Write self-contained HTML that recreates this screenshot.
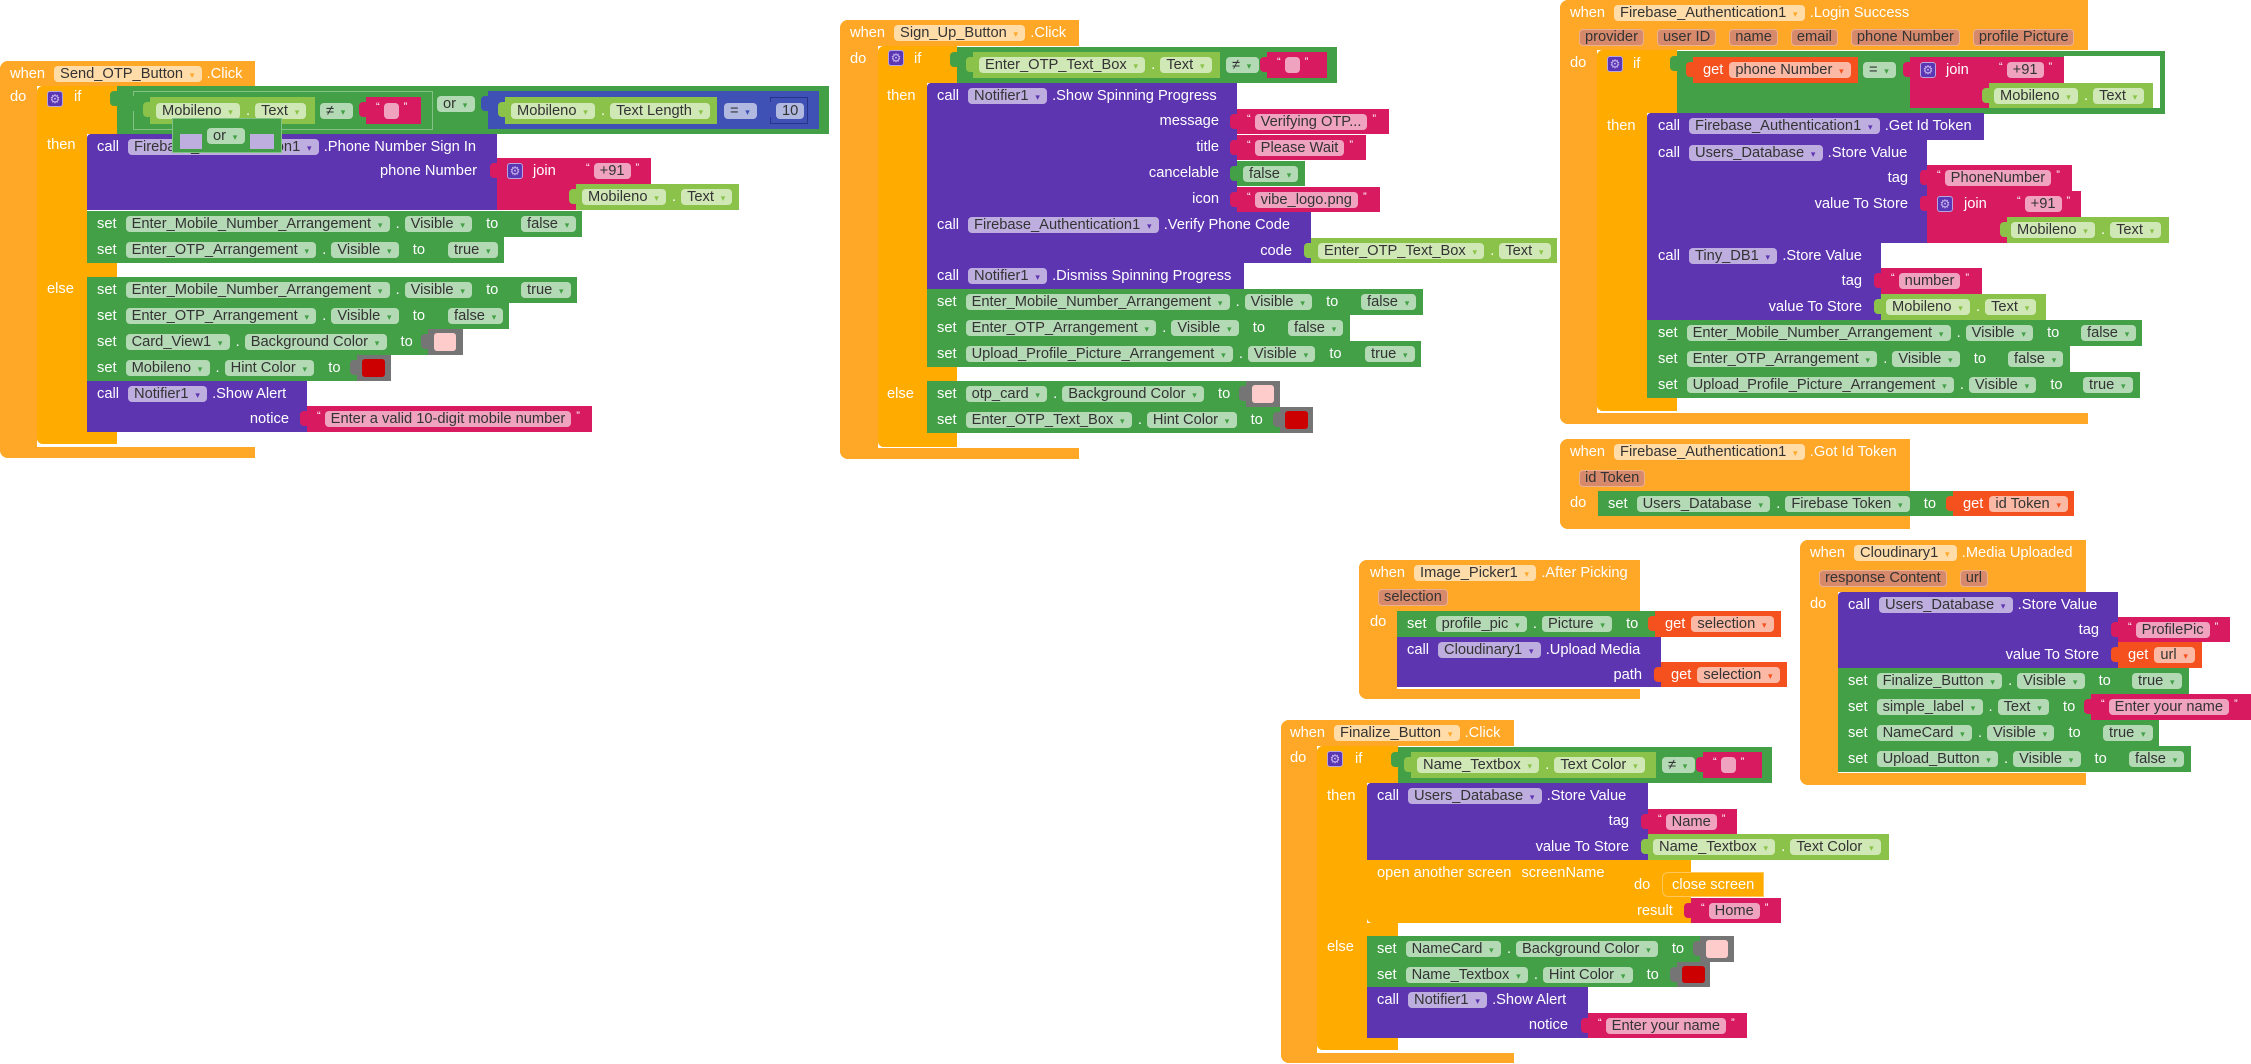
<!DOCTYPE html>
<html><head><meta charset="utf-8">
<style>
*{margin:0;padding:0;box-sizing:border-box}
body{width:2251px;height:1064px;background:#fff;position:relative;overflow:hidden;font-family:"Liberation Sans",Arial,sans-serif;font-size:14.67px}
.k{position:absolute}
.E{background:#FFA726}.C{background:#FFAB00}.S{background:#43A047}.G{background:#8BC34A}
.P{background:#5E35B1}.K{background:#D81B60}.B{background:#3F51B5}.V{background:#F4511E}.Y{background:#757575}
.o{box-shadow:inset 0 0 0 1px rgba(255,255,255,.35)}
.o2{box-shadow:inset 0 0 0 1px #25348a}
.t::before{content:"";position:absolute;left:-7px;top:5px;width:8px;height:15px;background:inherit;border-radius:4px 0 0 4px}
.r{position:absolute;display:flex;align-items:center;white-space:nowrap;color:#fff;height:26px}
.rr{justify-content:flex-end}
.p{display:inline-block;font-style:normal;height:16px;line-height:16px;padding:0 6px;border-radius:4px;background:rgba(255,255,255,.6);color:#333;margin-left:0}
.r span + .p{margin-left:9px}
.rg span + .p{margin-left:6px}
.p0{width:15px;padding:0}
.d::after{content:"▾";display:inline-block;width:7px;margin-left:5.5px;font-size:9px;text-align:center;color:var(--c);font-family:"DejaVu Sans",sans-serif}
.r b{font-weight:normal;margin-left:6px}
.r b + .p{margin-left:5px}
.r em{font-style:normal;margin-left:5px}
.r u{text-decoration:none;margin-left:14px}
.r s{text-decoration:none;font-size:11px;align-self:flex-start;margin-top:4px}
.r s + .p{margin-left:4px}
.r .p + s{margin-left:5px}
.q{display:inline-block;font-style:normal;height:17px;line-height:15px;padding:0 5px;border-radius:4px;background:#D68A6B;border:1px solid #EDB08F;color:#333;margin-right:13px}
.gear{position:absolute;width:16px;height:16px;background:#5b37b3;border:1px solid #b7a5e0;border-radius:3px;color:#c9b8f0;font-size:12px;line-height:14px;text-align:center;font-family:"DejaVu Sans",sans-serif}
.ce{--c:#FFA726}.cc{--c:#FFAB00}.cs{--c:#43A047}.cg{--c:#8BC34A}.cp{--c:#5E35B1}.ck{--c:#D81B60}.cv{--c:#F4511E}.cb{--c:#3F51B5}
</style></head><body>

<!-- ===== Block 1: Send_OTP_Button.Click ===== -->
<div class="k E" style="left:0;top:61px;width:255px;height:25px;border-radius:8px 0 0 0"></div>
<div class="k E" style="left:0;top:61px;width:37px;height:397px;border-radius:8px 0 0 8px"></div>
<div class="k E" style="left:0;top:447px;width:255px;height:11px;border-radius:0 0 0 8px"></div>
<div class="r ce" style="left:10px;top:61px;height:25px"><span>when</span><i class="p d">Send_OTP_Button</i><em>.Click</em></div>
<div class="r" style="left:10px;top:84px">do</div>
<div class="k C" style="left:37px;top:86px;width:80px;height:48px;border-radius:6px 0 0 0"></div>
<div class="k C" style="left:37px;top:86px;width:50px;height:358px;border-radius:6px 0 0 6px"></div>
<div class="k C" style="left:37px;top:263px;width:80px;height:14px"></div>
<div class="k C" style="left:37px;top:431px;width:80px;height:13px;border-radius:0 0 0 6px"></div>
<div class="gear" style="left:47px;top:91px">⚙</div>
<div class="r" style="left:74px;top:84px">if</div>
<div class="r" style="left:47px;top:132px">then</div>
<div class="r" style="left:47px;top:276px">else</div>

<div class="k S t" style="left:117px;top:86px;width:712px;height:48px"></div>
<div class="k S t o" style="left:133px;top:91px;width:300px;height:39px"></div>
<div class="k G t" style="left:150px;top:97px;width:165px;height:27px"></div>
<div class="r cg" style="left:156px;top:97px;height:27px"><i class="p d">Mobileno</i><b>.</b><i class="p d">Text</i></div>
<div class="r cs" style="left:320px;top:97px;height:27px"><i class="p d">≠</i></div>
<div class="k K t" style="left:366px;top:97px;width:55px;height:27px"></div>
<div class="r ck" style="left:376px;top:97px;height:27px"><s>“</s><i class="p p0"></i><s>”</s></div>
<div class="r cs" style="left:437px;top:96px;height:16px"><i class="p d">or</i></div>
<div class="k B t" style="left:488px;top:91px;width:331px;height:38px"></div>
<div class="k G t" style="left:505px;top:97px;width:212px;height:27px"></div>
<div class="r cg" style="left:511px;top:97px;height:27px"><i class="p d">Mobileno</i><b>.</b><i class="p d">Text Length</i></div>
<div class="r cb" style="left:724px;top:97px;height:27px"><i class="p d">=</i></div>
<div class="k B t o2" style="left:770px;top:97px;width:38px;height:27px"></div>
<div class="r" style="left:776px;top:97px;height:27px"><i class="p">10</i></div>

<div class="k P" style="left:87px;top:134px;width:410px;height:76px;border-radius:4px 0 0 0"></div>
<div class="r cp" style="left:97px;top:134px;height:25px"><span>call</span><i class="p d">Firebase_Authentication1</i><em>.Phone Number Sign In</em></div>
<div class="r rr" style="left:87px;width:390px;top:158px">phone Number</div>
<div class="k K t" style="left:497px;top:158px;width:79px;height:52px"></div>
<div class="gear" style="left:507px;top:163px">⚙</div>
<div class="r" style="left:533px;top:158px">join</div>
<div class="k K t" style="left:576px;top:158px;width:75px;height:26px"></div>
<div class="r ck" style="left:586px;top:158px"><s>“</s><i class="p">+91</i><s>”</s></div>
<div class="k G t" style="left:576px;top:184px;width:163px;height:26px"></div>
<div class="r cg" style="left:582px;top:184px"><i class="p d">Mobileno</i><b>.</b><i class="p d">Text</i></div>

<div class="k S o" style="left:172px;top:118px;width:110px;height:35px"></div>
<div class="k" style="left:180px;top:134px;width:22px;height:15px;background:#BEAEE0"></div>
<div class="k" style="left:250px;top:134px;width:24px;height:15px;background:#BEAEE0"></div>
<div class="r cs" style="left:207px;top:128px;height:16px"><i class="p d">or</i></div>

<div class="k S" style="left:87px;top:211px;width:428px;height:26px"></div>
<div class="r cs" style="left:97px;top:211px"><span>set</span><i class="p d">Enter_Mobile_Number_Arrangement</i><b>.</b><i class="p d">Visible</i><u>to</u></div>
<div class="k S t" style="left:515px;top:211px;width:67px;height:26px"></div>
<div class="r cs" style="left:521px;top:211px"><i class="p d">false</i></div>
<div class="k S" style="left:87px;top:237px;width:355px;height:26px"></div>
<div class="r cs" style="left:97px;top:237px"><span>set</span><i class="p d">Enter_OTP_Arrangement</i><b>.</b><i class="p d">Visible</i><u>to</u></div>
<div class="k S t" style="left:442px;top:237px;width:62px;height:26px"></div>
<div class="r cs" style="left:448px;top:237px"><i class="p d">true</i></div>

<div class="k S" style="left:87px;top:277px;width:428px;height:26px"></div>
<div class="r cs" style="left:97px;top:277px"><span>set</span><i class="p d">Enter_Mobile_Number_Arrangement</i><b>.</b><i class="p d">Visible</i><u>to</u></div>
<div class="k S t" style="left:515px;top:277px;width:62px;height:26px"></div>
<div class="r cs" style="left:521px;top:277px"><i class="p d">true</i></div>
<div class="k S" style="left:87px;top:303px;width:355px;height:26px"></div>
<div class="r cs" style="left:97px;top:303px"><span>set</span><i class="p d">Enter_OTP_Arrangement</i><b>.</b><i class="p d">Visible</i><u>to</u></div>
<div class="k S t" style="left:442px;top:303px;width:67px;height:26px"></div>
<div class="r cs" style="left:448px;top:303px"><i class="p d">false</i></div>
<div class="k S" style="left:87px;top:329px;width:341px;height:26px"></div>
<div class="r cs" style="left:97px;top:329px"><span>set</span><i class="p d">Card_View1</i><b>.</b><i class="p d">Background Color</i><u>to</u></div>
<div class="k Y t" style="left:428px;top:329px;width:35px;height:26px"></div>
<div class="k" style="left:434px;top:333px;width:22px;height:18px;background:#FFCCCC;border-radius:3px"></div>
<div class="k S" style="left:87px;top:355px;width:270px;height:26px"></div>
<div class="r cs" style="left:97px;top:355px"><span>set</span><i class="p d">Mobileno</i><b>.</b><i class="p d">Hint Color</i><u>to</u></div>
<div class="k Y t" style="left:357px;top:355px;width:34px;height:26px"></div>
<div class="k" style="left:362px;top:359px;width:23px;height:18px;background:#CC0000;border-radius:3px"></div>
<div class="k P" style="left:87px;top:381px;width:220px;height:51px"></div>
<div class="r cp" style="left:97px;top:381px;height:25px"><span>call</span><i class="p d">Notifier1</i><em>.Show Alert</em></div>
<div class="r rr" style="left:87px;width:202px;top:406px">notice</div>
<div class="k K t" style="left:307px;top:406px;width:285px;height:26px"></div>
<div class="r ck" style="left:317px;top:406px"><s>“</s><i class="p">Enter a valid 10-digit mobile number</i><s>”</s></div>

<!-- ===== Block 2: Sign_Up_Button.Click ===== -->
<div class="k E" style="left:840px;top:20px;width:239px;height:26px;border-radius:8px 0 0 0"></div>
<div class="k E" style="left:840px;top:20px;width:38px;height:439px;border-radius:8px 0 0 8px"></div>
<div class="k E" style="left:840px;top:448px;width:239px;height:11px;border-radius:0 0 0 8px"></div>
<div class="r ce" style="left:850px;top:20px"><span>when</span><i class="p d">Sign_Up_Button</i><em>.Click</em></div>
<div class="r" style="left:850px;top:46px">do</div>
<div class="k C" style="left:878px;top:46px;width:79px;height:37px;border-radius:6px 0 0 0"></div>
<div class="k C" style="left:878px;top:46px;width:49px;height:401px;border-radius:6px 0 0 6px"></div>
<div class="k C" style="left:878px;top:367px;width:79px;height:14px"></div>
<div class="k C" style="left:878px;top:433px;width:79px;height:14px;border-radius:0 0 0 6px"></div>
<div class="gear" style="left:888px;top:50px">⚙</div>
<div class="r" style="left:914px;top:46px">if</div>
<div class="r" style="left:887px;top:83px;height:25px">then</div>
<div class="r" style="left:887px;top:381px">else</div>
<div class="k S t" style="left:957px;top:47px;width:380px;height:36px"></div>
<div class="k G t" style="left:973px;top:52px;width:247px;height:26px"></div>
<div class="r cg" style="left:979px;top:52px"><i class="p d">Enter_OTP_Text_Box</i><b>.</b><i class="p d">Text</i></div>
<div class="r cs" style="left:1226px;top:52px"><i class="p d">≠</i></div>
<div class="k K t" style="left:1267px;top:52px;width:60px;height:26px"></div>
<div class="r ck" style="left:1277px;top:52px"><s>“</s><i class="p p0"></i><s>”</s></div>

<div class="k P" style="left:927px;top:83px;width:310px;height:129px;border-radius:4px 0 0 0"></div>
<div class="r cp" style="left:937px;top:83px;height:25px"><span>call</span><i class="p d">Notifier1</i><em>.Show Spinning Progress</em></div>
<div class="r rr" style="left:927px;width:292px;top:108px">message</div>
<div class="r rr" style="left:927px;width:292px;top:134px">title</div>
<div class="r rr" style="left:927px;width:292px;top:160px">cancelable</div>
<div class="r rr" style="left:927px;width:292px;top:186px">icon</div>
<div class="k K t" style="left:1237px;top:109px;width:152px;height:25px"></div>
<div class="r ck" style="left:1247px;top:109px;height:25px"><s>“</s><i class="p">Verifying OTP...</i><s>”</s></div>
<div class="k K t" style="left:1237px;top:135px;width:129px;height:25px"></div>
<div class="r ck" style="left:1247px;top:135px;height:25px"><s>“</s><i class="p">Please Wait</i><s>”</s></div>
<div class="k S t" style="left:1237px;top:161px;width:68px;height:25px"></div>
<div class="r cs" style="left:1243px;top:161px;height:25px"><i class="p d">false</i></div>
<div class="k K t" style="left:1237px;top:187px;width:143px;height:25px"></div>
<div class="r ck" style="left:1247px;top:187px;height:25px"><s>“</s><i class="p">vibe_logo.png</i><s>”</s></div>
<div class="k P" style="left:927px;top:212px;width:384px;height:51px"></div>
<div class="r cp" style="left:937px;top:212px;height:25px"><span>call</span><i class="p d">Firebase_Authentication1</i><em>.Verify Phone Code</em></div>
<div class="r rr" style="left:927px;width:365px;top:238px;height:25px">code</div>
<div class="k G t" style="left:1311px;top:238px;width:246px;height:25px"></div>
<div class="r cg" style="left:1318px;top:238px;height:25px"><i class="p d">Enter_OTP_Text_Box</i><b>.</b><i class="p d">Text</i></div>
<div class="k P" style="left:927px;top:263px;width:317px;height:26px"></div>
<div class="r cp" style="left:937px;top:263px"><span>call</span><i class="p d">Notifier1</i><em>.Dismiss Spinning Progress</em></div>
<div class="k S" style="left:927px;top:289px;width:428px;height:26px"></div>
<div class="r cs" style="left:937px;top:289px"><span>set</span><i class="p d">Enter_Mobile_Number_Arrangement</i><b>.</b><i class="p d">Visible</i><u>to</u></div>
<div class="k S t" style="left:1355px;top:289px;width:68px;height:26px"></div>
<div class="r cs" style="left:1361px;top:289px"><i class="p d">false</i></div>
<div class="k S" style="left:927px;top:315px;width:355px;height:26px"></div>
<div class="r cs" style="left:937px;top:315px"><span>set</span><i class="p d">Enter_OTP_Arrangement</i><b>.</b><i class="p d">Visible</i><u>to</u></div>
<div class="k S t" style="left:1282px;top:315px;width:68px;height:26px"></div>
<div class="r cs" style="left:1288px;top:315px"><i class="p d">false</i></div>
<div class="k S" style="left:927px;top:341px;width:432px;height:26px"></div>
<div class="r cs" style="left:937px;top:341px"><span>set</span><i class="p d">Upload_Profile_Picture_Arrangement</i><b>.</b><i class="p d">Visible</i><u>to</u></div>
<div class="k S t" style="left:1359px;top:341px;width:62px;height:26px"></div>
<div class="r cs" style="left:1365px;top:341px"><i class="p d">true</i></div>
<div class="k S" style="left:927px;top:381px;width:319px;height:26px"></div>
<div class="r cs" style="left:937px;top:381px"><span>set</span><i class="p d">otp_card</i><b>.</b><i class="p d">Background Color</i><u>to</u></div>
<div class="k Y t" style="left:1246px;top:381px;width:34px;height:26px"></div>
<div class="k" style="left:1252px;top:385px;width:22px;height:18px;background:#FFCCCC;border-radius:3px"></div>
<div class="k S" style="left:927px;top:407px;width:353px;height:26px"></div>
<div class="r cs" style="left:937px;top:407px"><span>set</span><i class="p d">Enter_OTP_Text_Box</i><b>.</b><i class="p d">Hint Color</i><u>to</u></div>
<div class="k Y t" style="left:1280px;top:407px;width:33px;height:26px"></div>
<div class="k" style="left:1285px;top:411px;width:23px;height:18px;background:#CC0000;border-radius:3px"></div>

<!-- ===== Block 3: Login Success ===== -->
<div class="k E" style="left:1560px;top:0;width:528px;height:50px;border-radius:8px 0 0 0"></div>
<div class="k E" style="left:1560px;top:0;width:37px;height:424px;border-radius:8px 0 0 8px"></div>
<div class="k E" style="left:1560px;top:413px;width:528px;height:11px;border-radius:0 0 0 8px"></div>
<div class="r ce" style="left:1570px;top:0;height:25px"><span>when</span><i class="p d">Firebase_Authentication1</i><em>.Login Success</em></div>
<div class="r" style="left:1579px;top:29px;height:17px"><i class="q">provider</i><i class="q">user ID</i><i class="q">name</i><i class="q">email</i><i class="q">phone Number</i><i class="q">profile Picture</i></div>
<div class="r" style="left:1570px;top:50px;height:25px">do</div>
<div class="k C" style="left:1597px;top:50px;width:80px;height:63px;border-radius:6px 0 0 0"></div>
<div class="k C" style="left:1597px;top:50px;width:50px;height:361px;border-radius:6px 0 0 6px"></div>
<div class="k C" style="left:1597px;top:398px;width:80px;height:13px;border-radius:0 0 0 6px"></div>
<div class="gear" style="left:1607px;top:56px">⚙</div>
<div class="r" style="left:1633px;top:51px;height:25px">if</div>
<div class="r" style="left:1607px;top:113px;height:25px">then</div>
<div class="k S t" style="left:1677px;top:51px;width:488px;height:63px"></div>
<div class="k" style="left:2064px;top:56px;width:96px;height:52px;background:#fff"></div>
<div class="k V t" style="left:1693px;top:57px;width:165px;height:26px"></div>
<div class="r cv rg" style="left:1703px;top:57px"><span>get</span><i class="p d">phone Number</i></div>
<div class="r cs" style="left:1863px;top:57px"><i class="p d">=</i></div>
<div class="k K t" style="left:1910px;top:57px;width:79px;height:51px"></div>
<div class="gear" style="left:1920px;top:62px">⚙</div>
<div class="r" style="left:1946px;top:57px">join</div>
<div class="k K t" style="left:1989px;top:57px;width:75px;height:26px"></div>
<div class="r ck" style="left:1999px;top:57px"><s>“</s><i class="p">+91</i><s>”</s></div>
<div class="k G t" style="left:1989px;top:83px;width:164px;height:25px"></div>
<div class="r cg" style="left:1994px;top:83px;height:25px"><i class="p d">Mobileno</i><b>.</b><i class="p d">Text</i></div>

<div class="k P" style="left:1647px;top:113px;width:337px;height:27px;border-radius:4px 0 0 0"></div>
<div class="r cp" style="left:1658px;top:113px"><span>call</span><i class="p d">Firebase_Authentication1</i><em>.Get Id Token</em></div>
<div class="k P" style="left:1647px;top:140px;width:280px;height:103px"></div>
<div class="r cp" style="left:1658px;top:140px;height:25px"><span>call</span><i class="p d">Users_Database</i><em>.Store Value</em></div>
<div class="r rr" style="left:1647px;width:261px;top:165px">tag</div>
<div class="r rr" style="left:1647px;width:261px;top:191px">value To Store</div>
<div class="k K t" style="left:1927px;top:165px;width:145px;height:26px"></div>
<div class="r ck" style="left:1937px;top:165px"><s>“</s><i class="p">PhoneNumber</i><s>”</s></div>
<div class="k K t" style="left:1927px;top:191px;width:80px;height:52px"></div>
<div class="gear" style="left:1937px;top:196px">⚙</div>
<div class="r" style="left:1964px;top:191px">join</div>
<div class="k K t" style="left:2007px;top:191px;width:74px;height:26px"></div>
<div class="r ck" style="left:2017px;top:191px"><s>“</s><i class="p">+91</i><s>”</s></div>
<div class="k G t" style="left:2007px;top:217px;width:162px;height:26px"></div>
<div class="r cg" style="left:2011px;top:217px"><i class="p d">Mobileno</i><b>.</b><i class="p d">Text</i></div>
<div class="k P" style="left:1647px;top:243px;width:234px;height:77px"></div>
<div class="r cp" style="left:1658px;top:243px;height:25px"><span>call</span><i class="p d">Tiny_DB1</i><em>.Store Value</em></div>
<div class="r rr" style="left:1647px;width:215px;top:268px">tag</div>
<div class="r rr" style="left:1647px;width:215px;top:294px">value To Store</div>
<div class="k K t" style="left:1881px;top:268px;width:101px;height:26px"></div>
<div class="r ck" style="left:1891px;top:268px"><s>“</s><i class="p">number</i><s>”</s></div>
<div class="k G t" style="left:1881px;top:294px;width:165px;height:26px"></div>
<div class="r cg" style="left:1886px;top:294px"><i class="p d">Mobileno</i><b>.</b><i class="p d">Text</i></div>
<div class="k S" style="left:1647px;top:320px;width:428px;height:26px"></div>
<div class="r cs" style="left:1658px;top:320px"><span>set</span><i class="p d">Enter_Mobile_Number_Arrangement</i><b>.</b><i class="p d">Visible</i><u>to</u></div>
<div class="k S t" style="left:2075px;top:320px;width:67px;height:26px"></div>
<div class="r cs" style="left:2081px;top:320px"><i class="p d">false</i></div>
<div class="k S" style="left:1647px;top:346px;width:355px;height:26px"></div>
<div class="r cs" style="left:1658px;top:346px"><span>set</span><i class="p d">Enter_OTP_Arrangement</i><b>.</b><i class="p d">Visible</i><u>to</u></div>
<div class="k S t" style="left:2002px;top:346px;width:68px;height:26px"></div>
<div class="r cs" style="left:2008px;top:346px"><i class="p d">false</i></div>
<div class="k S" style="left:1647px;top:372px;width:430px;height:26px"></div>
<div class="r cs" style="left:1658px;top:372px"><span>set</span><i class="p d">Upload_Profile_Picture_Arrangement</i><b>.</b><i class="p d">Visible</i><u>to</u></div>
<div class="k S t" style="left:2077px;top:372px;width:63px;height:26px"></div>
<div class="r cs" style="left:2083px;top:372px"><i class="p d">true</i></div>

<!-- ===== Block 4: Got Id Token ===== -->
<div class="k E" style="left:1560px;top:439px;width:350px;height:52px;border-radius:8px 0 0 0"></div>
<div class="k E" style="left:1560px;top:439px;width:38px;height:90px;border-radius:8px 0 0 8px"></div>
<div class="k E" style="left:1560px;top:516px;width:350px;height:13px;border-radius:0 0 0 8px"></div>
<div class="r ce" style="left:1570px;top:439px"><span>when</span><i class="p d">Firebase_Authentication1</i><em>.Got Id Token</em></div>
<div class="r" style="left:1579px;top:470px;height:17px"><i class="q">id Token</i></div>
<div class="r" style="left:1570px;top:490px">do</div>
<div class="k S" style="left:1598px;top:491px;width:355px;height:25px"></div>
<div class="r cs" style="left:1608px;top:491px;height:25px"><span>set</span><i class="p d">Users_Database</i><b>.</b><i class="p d">Firebase Token</i><u>to</u></div>
<div class="k V t" style="left:1953px;top:491px;width:121px;height:25px"></div>
<div class="r cv rg" style="left:1963px;top:491px;height:25px"><span>get</span><i class="p d">id Token</i></div>

<!-- ===== Block 5: Image_Picker1.After Picking ===== -->
<div class="k E" style="left:1359px;top:560px;width:281px;height:51px;border-radius:8px 0 0 0"></div>
<div class="k E" style="left:1359px;top:560px;width:38px;height:139px;border-radius:8px 0 0 8px"></div>
<div class="k E" style="left:1359px;top:689px;width:281px;height:10px;border-radius:0 0 0 8px"></div>
<div class="r ce" style="left:1370px;top:560px"><span>when</span><i class="p d">Image_Picker1</i><em>.After Picking</em></div>
<div class="r" style="left:1378px;top:589px;height:17px"><i class="q">selection</i></div>
<div class="r" style="left:1370px;top:609px">do</div>
<div class="k S" style="left:1397px;top:611px;width:258px;height:26px"></div>
<div class="r cs" style="left:1407px;top:611px"><span>set</span><i class="p d">profile_pic</i><b>.</b><i class="p d">Picture</i><u>to</u></div>
<div class="k V t" style="left:1655px;top:611px;width:126px;height:26px"></div>
<div class="r cv rg" style="left:1665px;top:611px"><span>get</span><i class="p d">selection</i></div>
<div class="k P" style="left:1397px;top:637px;width:264px;height:50px"></div>
<div class="r cp" style="left:1407px;top:637px;height:25px"><span>call</span><i class="p d">Cloudinary1</i><em>.Upload Media</em></div>
<div class="r rr" style="left:1397px;width:245px;top:662px;height:25px">path</div>
<div class="k V t" style="left:1661px;top:662px;width:126px;height:25px"></div>
<div class="r cv rg" style="left:1671px;top:662px;height:25px"><span>get</span><i class="p d">selection</i></div>

<!-- ===== Block 6: Cloudinary1.Media Uploaded ===== -->
<div class="k E" style="left:1800px;top:540px;width:286px;height:52px;border-radius:8px 0 0 0"></div>
<div class="k E" style="left:1800px;top:540px;width:38px;height:245px;border-radius:8px 0 0 8px"></div>
<div class="k E" style="left:1800px;top:773px;width:286px;height:12px;border-radius:0 0 0 8px"></div>
<div class="r ce" style="left:1810px;top:540px;height:25px"><span>when</span><i class="p d">Cloudinary1</i><em>.Media Uploaded</em></div>
<div class="r" style="left:1819px;top:570px;height:17px"><i class="q">response Content</i><i class="q">url</i></div>
<div class="r" style="left:1810px;top:591px;height:25px">do</div>
<div class="k P" style="left:1838px;top:592px;width:280px;height:76px;border-radius:4px 0 0 0"></div>
<div class="r cp" style="left:1848px;top:592px;height:25px"><span>call</span><i class="p d">Users_Database</i><em>.Store Value</em></div>
<div class="r rr" style="left:1838px;width:261px;top:617px;height:25px">tag</div>
<div class="r rr" style="left:1838px;width:261px;top:642px">value To Store</div>
<div class="k K t" style="left:2118px;top:617px;width:112px;height:25px"></div>
<div class="r ck" style="left:2128px;top:617px;height:25px"><s>“</s><i class="p">ProfilePic</i><s>”</s></div>
<div class="k V t" style="left:2118px;top:642px;width:84px;height:26px"></div>
<div class="r cv rg" style="left:2128px;top:642px"><span>get</span><i class="p d">url</i></div>
<div class="k S" style="left:1838px;top:668px;width:288px;height:26px"></div>
<div class="r cs" style="left:1848px;top:668px"><span>set</span><i class="p d">Finalize_Button</i><b>.</b><i class="p d">Visible</i><u>to</u></div>
<div class="k S t" style="left:2126px;top:668px;width:63px;height:26px"></div>
<div class="r cs" style="left:2132px;top:668px"><i class="p d">true</i></div>
<div class="k S" style="left:1838px;top:694px;width:253px;height:26px"></div>
<div class="r cs" style="left:1848px;top:694px"><span>set</span><i class="p d">simple_label</i><b>.</b><i class="p d">Text</i><u>to</u></div>
<div class="k K t" style="left:2091px;top:694px;width:160px;height:26px"></div>
<div class="r ck" style="left:2101px;top:694px"><s>“</s><i class="p">Enter your name</i><s>”</s></div>
<div class="k S" style="left:1838px;top:720px;width:259px;height:26px"></div>
<div class="r cs" style="left:1848px;top:720px"><span>set</span><i class="p d">NameCard</i><b>.</b><i class="p d">Visible</i><u>to</u></div>
<div class="k S t" style="left:2097px;top:720px;width:62px;height:26px"></div>
<div class="r cs" style="left:2103px;top:720px"><i class="p d">true</i></div>
<div class="k S" style="left:1838px;top:746px;width:285px;height:26px"></div>
<div class="r cs" style="left:1848px;top:746px"><span>set</span><i class="p d">Upload_Button</i><b>.</b><i class="p d">Visible</i><u>to</u></div>
<div class="k S t" style="left:2123px;top:746px;width:68px;height:26px"></div>
<div class="r cs" style="left:2129px;top:746px"><i class="p d">false</i></div>

<!-- ===== Block 7: Finalize_Button.Click ===== -->
<div class="k E" style="left:1281px;top:720px;width:233px;height:26px;border-radius:8px 0 0 0"></div>
<div class="k E" style="left:1281px;top:720px;width:36px;height:343px;border-radius:8px 0 0 8px"></div>
<div class="k E" style="left:1281px;top:1053px;width:233px;height:10px;border-radius:0 0 0 8px"></div>
<div class="r ce" style="left:1290px;top:720px"><span>when</span><i class="p d">Finalize_Button</i><em>.Click</em></div>
<div class="r" style="left:1290px;top:745px">do</div>
<div class="k C" style="left:1317px;top:746px;width:81px;height:37px;border-radius:6px 0 0 0"></div>
<div class="k C" style="left:1317px;top:746px;width:50px;height:304px;border-radius:6px 0 0 6px"></div>
<div class="k C" style="left:1317px;top:923px;width:81px;height:13px"></div>
<div class="k C" style="left:1317px;top:1038px;width:81px;height:12px;border-radius:0 0 0 6px"></div>
<div class="gear" style="left:1327px;top:751px">⚙</div>
<div class="r" style="left:1355px;top:746px">if</div>
<div class="r" style="left:1327px;top:783px;height:25px">then</div>
<div class="r" style="left:1327px;top:936px;height:22px">else</div>
<div class="k S t" style="left:1398px;top:747px;width:374px;height:36px"></div>
<div class="k G t" style="left:1411px;top:752px;width:245px;height:26px"></div>
<div class="r cg" style="left:1417px;top:752px"><i class="p d">Name_Textbox</i><b>.</b><i class="p d">Text Color</i></div>
<div class="r cs" style="left:1662px;top:752px"><i class="p d">≠</i></div>
<div class="k K t" style="left:1703px;top:752px;width:59px;height:26px"></div>
<div class="r ck" style="left:1713px;top:752px"><s>“</s><i class="p p0"></i><s>”</s></div>
<div class="k P" style="left:1367px;top:783px;width:281px;height:77px;border-radius:4px 0 0 0"></div>
<div class="r cp" style="left:1377px;top:783px;height:25px"><span>call</span><i class="p d">Users_Database</i><em>.Store Value</em></div>
<div class="r rr" style="left:1367px;width:262px;top:808px">tag</div>
<div class="r rr" style="left:1367px;width:262px;top:834px">value To Store</div>
<div class="k K t" style="left:1648px;top:809px;width:89px;height:25px"></div>
<div class="r ck" style="left:1658px;top:809px;height:25px"><s>“</s><i class="p">Name</i><s>”</s></div>
<div class="k G t" style="left:1648px;top:834px;width:241px;height:26px"></div>
<div class="r cg" style="left:1653px;top:834px"><i class="p d">Name_Textbox</i><b>.</b><i class="p d">Text Color</i></div>
<div class="k C" style="left:1367px;top:860px;width:257px;height:63px;border-radius:0 0 0 5px"></div>
<div class="r" style="left:1377px;top:860px">open another screen<span style="margin-left:10px">screenName</span></div>
<div class="k C t" style="left:1624px;top:860px;width:67px;height:63px"></div>
<div class="r" style="left:1634px;top:872px;height:25px">do</div>
<div class="r" style="left:1637px;top:898px;height:25px">result</div>
<div class="k C o" style="left:1662px;top:872px;width:102px;height:25px;border-radius:6px 0 0 6px"></div>
<div class="r" style="left:1672px;top:872px;height:25px">close screen</div>
<div class="k K t" style="left:1691px;top:898px;width:90px;height:25px"></div>
<div class="r ck" style="left:1701px;top:898px;height:25px"><s>“</s><i class="p">Home</i><s>”</s></div>
<div class="k S" style="left:1367px;top:936px;width:333px;height:26px"></div>
<div class="r cs" style="left:1377px;top:936px"><span>set</span><i class="p d">NameCard</i><b>.</b><i class="p d">Background Color</i><u>to</u></div>
<div class="k Y t" style="left:1700px;top:936px;width:34px;height:26px"></div>
<div class="k" style="left:1706px;top:940px;width:22px;height:18px;background:#FFCCCC;border-radius:3px"></div>
<div class="k S" style="left:1367px;top:962px;width:310px;height:25px"></div>
<div class="r cs" style="left:1377px;top:962px;height:25px"><span>set</span><i class="p d">Name_Textbox</i><b>.</b><i class="p d">Hint Color</i><u>to</u></div>
<div class="k Y t" style="left:1677px;top:962px;width:33px;height:25px"></div>
<div class="k" style="left:1682px;top:966px;width:23px;height:17px;background:#CC0000;border-radius:3px"></div>
<div class="k P" style="left:1367px;top:987px;width:221px;height:51px"></div>
<div class="r cp" style="left:1377px;top:987px;height:25px"><span>call</span><i class="p d">Notifier1</i><em>.Show Alert</em></div>
<div class="r rr" style="left:1367px;width:201px;top:1012px">notice</div>
<div class="k K t" style="left:1588px;top:1013px;width:159px;height:25px"></div>
<div class="r ck" style="left:1598px;top:1013px;height:25px"><s>“</s><i class="p">Enter your name</i><s>”</s></div>

</body></html>
